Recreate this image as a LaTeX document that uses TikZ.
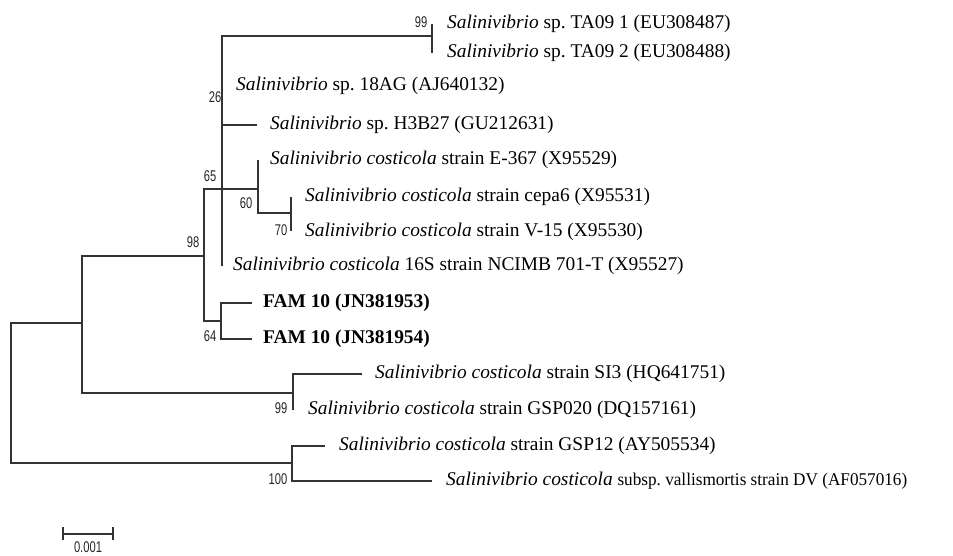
\documentclass[tikz,border=0pt]{standalone}
\usepackage{fontspec}
\setmainfont{Liberation Serif}
\newfontfamily\bsfont[FakeStretch=0.72]{Liberation Sans}
\newfontfamily\narrowserif[FakeStretch=0.96]{Liberation Serif}
\frenchspacing
\begin{document}
\begin{tikzpicture}[x=1pt,y=-1pt,
  br/.style={draw=black!80,line width=1.3pt},
  taxon/.style={anchor=west,inner sep=0pt,font=\fontsize{19.4}{21}\selectfont},
  boot/.style={inner sep=0pt,font=\bsfont\fontsize{15.5}{16}\selectfont,text=black!85}]
\useasboundingbox (0,0) rectangle (953,555);
% internal nodes
\coordinate (root) at (11,393);
\coordinate (nA) at (82,323);
\coordinate (n98) at (204,256);
\coordinate (n64) at (221,321);
\coordinate (n65) at (222,189);
\coordinate (n26) at (222,112);
\coordinate (n60) at (258,189);
\coordinate (n70) at (291,213);
\coordinate (nTA) at (432,36);
\coordinate (n99b) at (293,393);
\coordinate (n100) at (292,463);
% leaves
\coordinate (lT1) at (432,24);
\coordinate (lT2) at (432,53);
\coordinate (l18) at (222,86);
\coordinate (lH) at (257,125);
\coordinate (lE) at (258,160);
\coordinate (lc) at (291,197);
\coordinate (lv) at (291,231);
\coordinate (lN) at (222,266);
\coordinate (lF3) at (252,303);
\coordinate (lF4) at (252,339);
\coordinate (lS) at (362,374);
\coordinate (lG) at (293,410);
\coordinate (l12) at (325,446);
\coordinate (lDV) at (432,481);
% branches
\draw[br] (root) |- (nA);
\draw[br] (root) |- (n100);
\draw[br] (nA) |- (n98);
\draw[br] (nA) |- (n99b);
\draw[br] (n98) |- (n65);
\draw[br] (n98) |- (n64);
\draw[br] (n64) |- (lF3);
\draw[br] (n64) |- (lF4);
\draw[br] (n65) |- (nTA);
\draw[br] (n65) |- (l18);
\draw[br] (n65) |- (lH);
\draw[br] (n65) |- (n60);
\draw[br] (n65) |- (lN);
\draw[br,line width=2.4pt] (n26) -- (n65);
\draw[br] (nTA) |- (lT1);
\draw[br] (nTA) |- (lT2);
\draw[br] (n60) |- (lE);
\draw[br] (n60) |- (n70);
\draw[br] (n70) |- (lc);
\draw[br] (n70) |- (lv);
\draw[br] (n99b) |- (lS);
\draw[br] (n99b) |- (lG);
\draw[br] (n100) |- (l12);
\draw[br] (n100) |- (lDV);
% taxa
\node[taxon] (tT1) at (447,24) {\textit{Salinivibrio} sp. TA09 1 (EU308487)};
\node[taxon] (tT2) at (447,53) {\textit{Salinivibrio} sp. TA09 2 (EU308488)};
\node[taxon] (t18) at (236,86) {\textit{Salinivibrio} sp. 18AG (AJ640132)};
\node[taxon] (tH) at (270,125) {\textit{Salinivibrio} sp. H3B27 (GU212631)};
\node[taxon] (tE) at (270,160) {\textit{Salinivibrio costicola} strain E-367 (X95529)};
\node[taxon] (tc) at (305,197) {\textit{Salinivibrio costicola} strain cepa6 (X95531)};
\node[taxon] (tv) at (305,232) {\textit{Salinivibrio costicola} strain V-15 (X95530)};
\node[taxon] (tN) at (233,266) {\textit{Salinivibrio costicola} 16S strain NCIMB 701-T (X95527)};
\node[taxon,font=\fontsize{19.4}{21}\selectfont\bfseries] (tF3) at (263,303) {FAM 10 (JN381953)};
\node[taxon,font=\fontsize{19.4}{21}\selectfont\bfseries] (tF4) at (263,339) {FAM 10 (JN381954)};
\node[taxon] (tS) at (375,374) {\textit{Salinivibrio costicola} strain SI3 (HQ641751)};
\node[taxon] (tG) at (308,410) {\textit{Salinivibrio costicola} strain GSP020 (DQ157161)};
\node[taxon] (t12) at (339,446) {\textit{Salinivibrio costicola} strain GSP12 (AY505534)};
\node[taxon] (tDV) at (446,481) {\textit{Salinivibrio costicola} {\narrowserif\fontsize{17.9}{20}\selectfont subsp. vallismortis strain DV (AF057016)}};
% bootstrap values
\node[boot] (b99a) at (421,22) {99};
\node[boot] (b26) at (215,97) {26};
\node[boot] (b65) at (210,176) {65};
\node[boot] (b60) at (246,203) {60};
\node[boot] (b70) at (281,230) {70};
\node[boot] (b98) at (193,242) {98};
\node[boot] (b64) at (210,336) {64};
\node[boot] (b99b) at (281,408) {99};
\node[boot] (b100) at (278,479) {100};
% scale bar
\coordinate (sb1) at (63,534);
\coordinate (sb2) at (113,534);
\draw[br] (sb1) -- (sb2);
\draw[br] ([yshift=-6pt]sb1) -- ([yshift=7pt]sb1);
\draw[br] ([yshift=-6pt]sb2) -- ([yshift=7pt]sb2);
\node[boot,anchor=north] (sbl) at (88,541.5) {0.001};
\end{tikzpicture}
\end{document}
